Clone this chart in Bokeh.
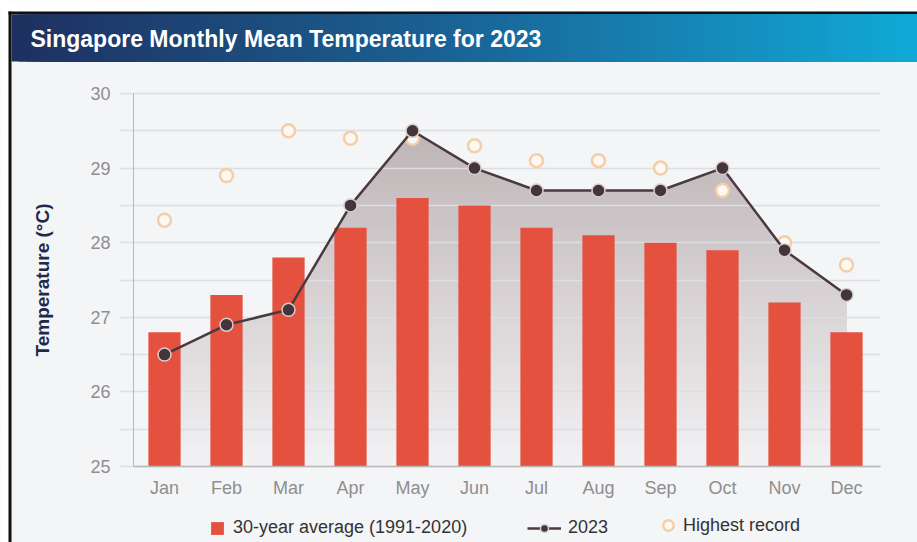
import numpy as np
from bokeh.plotting import figure
from bokeh.models import (BoxAnnotation, Label, Legend, LegendItem, Range1d,
                          FixedTicker)
from bokeh.embed import file_html
from bokeh.resources import INLINE

# ---- data -------------------------------------------------------------
months = ["Jan", "Feb", "Mar", "Apr", "May", "Jun",
          "Jul", "Aug", "Sep", "Oct", "Nov", "Dec"]
avg_30yr = [26.8, 27.3, 27.8, 28.2, 28.6, 28.5, 28.2, 28.1, 28.0, 27.9, 27.2, 26.8]
temp_2023 = [26.5, 26.9, 27.1, 28.5, 29.5, 29.0, 28.7, 28.7, 28.7, 29.0, 27.9, 27.3]
highest_record = [28.3, 28.9, 29.5, 29.4, 29.4, 29.3, 29.1, 29.1, 29.0, 28.7, 28.0, 27.7]
y_ticks = [25, 26, 27, 28, 29, 30]
y_minor_ticks = [25.5, 26.5, 27.5, 28.5, 29.5]

title_text = "Singapore Monthly Mean Temperature for 2023"
y_title = "Temperature (\u00b0C)"
legend_labels = ["30-year average (1991-2020)", "2023", "Highest record"]

# ---- page geometry (pixels) and styling --------------------------------
W, H = 917, 542
PLOT_L, PLOT_R, PLOT_T, PLOT_B = 133, 877, 93, 466   # plotting box
GRID_L, GRID_R = 120, 880                             # grid line extent
FONT = "Liberation Sans"
BG = "#f4f5f7"
GRID = "#dcdee2"
AXIS = "#b8b8b8"
BAR = "#e5513f"
LINE = "#4a3a40"
MARK = "#44343c"
REC_LINE = "#f3cea8"
REC_FILL = "#fdf8f1"

idx = list(range(len(months)))
y_lo, y_hi = y_ticks[0], y_ticks[-1]
x_lo, x_hi = -0.5, len(months) - 0.5

# The frame spans the whole canvas; ranges are stretched so the plotting
# box sits at PLOT_* while titles, borders and legends live in the margins.
kx = (PLOT_R - PLOT_L) / (x_hi - x_lo)
ky = (PLOT_B - PLOT_T) / (y_hi - y_lo)
x_range = Range1d(x_lo - PLOT_L / kx, x_hi + (W - PLOT_R) / kx)
y_range = Range1d(y_lo - (H - PLOT_B) / ky, y_hi + PLOT_T / ky)

def px_x(sx):
    return x_lo + (sx - PLOT_L) / kx

p = figure(width=W, height=H, output_backend="svg", toolbar_location=None,
           x_range=x_range, y_range=y_range, min_border=0)
p.title.visible = False
p.background_fill_color = BG
p.border_fill_color = BG
p.outline_line_color = None

# ---- axes and grid ----------------------------------------------------
yt = FixedTicker(ticks=y_ticks, minor_ticks=y_minor_ticks)
p.ygrid.ticker = yt
p.ygrid.grid_line_color = GRID
p.ygrid.grid_line_width = 1.5
p.ygrid.minor_grid_line_color = GRID
p.ygrid.minor_grid_line_width = 1.5
p.xgrid.grid_line_color = None

yax = p.yaxis[0]
yax.ticker = yt
yax.fixed_location = x_lo
yax.bounds = (y_lo, y_hi)
yax.axis_line_color = AXIS
yax.major_tick_in = 0
yax.major_tick_out = 13
yax.minor_tick_in = 0
yax.minor_tick_out = 13
yax.major_tick_line_color = None
yax.minor_tick_line_color = None
yax.major_label_standoff = 10
yax.major_label_text_font = FONT
yax.major_label_text_font_size = "18px"
yax.major_label_text_color = "#8e8e8e"
yax.axis_label = y_title
yax.axis_label_text_font = FONT
yax.axis_label_text_font_size = "19px"
yax.axis_label_text_font_style = "bold"
yax.axis_label_text_color = "#1d2a4c"
yax.axis_label_standoff = 34

xax = p.xaxis[0]
xax.ticker = FixedTicker(ticks=idx)
xax.major_label_overrides = {i: m for i, m in zip(idx, months)}
xax.fixed_location = y_lo
xax.bounds = (x_lo, px_x(GRID_R))
xax.axis_line_color = AXIS
xax.axis_line_width = 1.5
xax.major_tick_line_color = None
xax.minor_tick_line_color = None
xax.major_tick_in = 0
xax.major_tick_out = 0
xax.major_label_standoff = 11
xax.major_label_text_font = FONT
xax.major_label_text_font_size = "18px"
xax.major_label_text_color = "#8e8e8e"

# trim the horizontal grid lines to their visible extent
p.quad(left=x_range.start, right=px_x(GRID_L), bottom=y_lo - 0.2, top=y_hi + 0.2,
       fill_color=BG, line_color=None)
p.quad(left=px_x(GRID_R), right=x_range.end, bottom=y_lo - 0.2, top=y_hi + 0.2,
       fill_color=BG, line_color=None)

# ---- shaded area under the 2023 line (vertical gradient) -------------
xs = np.linspace(0, len(months) - 1, 1101)
curve = np.interp(xs, idx, temp_2023)
top_rgb = np.array([190, 180, 182])
bot_rgb = np.array([242, 241, 243])
span = max(temp_2023) - y_lo
for t in np.arange(y_lo, max(temp_2023), 0.1):
    f = (t + 0.05 - y_lo) / span
    c = np.round(bot_rgb + (top_rgb - bot_rgb) * f).astype(int)
    p.varea(x=xs, y1=np.full_like(xs, t), y2=np.maximum(curve, t),
            fill_color="#%02x%02x%02x" % tuple(c), level="image")

# ---- series -----------------------------------------------------------
bars = p.vbar(x=idx, top=avg_30yr, bottom=y_lo, width=0.52,
              fill_color=BAR, line_color=None)
rec = p.scatter(x=idx, y=highest_record, size=13, marker="circle",
                fill_color=REC_FILL, line_color=REC_LINE, line_width=2.5)
line = p.line(x=idx, y=temp_2023, line_color=LINE, line_width=2.5)
dots = p.scatter(x=idx, y=temp_2023, size=13, marker="circle",
                 fill_color=MARK, line_color="#d8cece", line_width=1.5)

# ---- legends (one per entry so each symbol keeps its own size) -------
LEG_Y = 4
def make_legend(label, renderers, x, gw, gh, standoff):
    leg = Legend(items=[LegendItem(label=label, renderers=renderers)],
                 location=(x, LEG_Y), orientation="horizontal",
                 glyph_width=gw, glyph_height=gh, label_standoff=standoff,
                 padding=0, margin=0, border_line_color=None,
                 background_fill_alpha=0,
                 label_text_font=FONT, label_text_font_size="18px",
                 label_text_color="#333333")
    p.add_layout(leg)

make_legend(legend_labels[0], [bars], 209, 16, 16, 8)
make_legend(legend_labels[1], [line, dots], 527, 34, 20, 7)
make_legend(legend_labels[2], [rec], 655, 26, 26, 2)

# ---- white margin, black border, gradient title bar -------------------
def box(l, r, t, b, color):
    p.add_layout(BoxAnnotation(left=l, right=r, top=t, bottom=b,
                               left_units="canvas", right_units="canvas",
                               top_units="canvas", bottom_units="canvas",
                               fill_color=color, fill_alpha=1.0,
                               line_color=None))

box(0, W, 0, 11, "white")
box(0, 8, 0, H, "white")
box(8, W, 11, 14, "#111111")
box(8, 11, 11, H, "#111111")

# gradient: each strip runs to the right end, later strips paint over it,
# so no gaps appear between neighbouring strips
stops = [(0.0, (30, 48, 96)), (0.5, (26, 100, 150)), (1.0, (16, 170, 216))]
n_strips = 120
x0, x1 = 11, W
for i in range(n_strips):
    a = x0 + (x1 - x0) * i / n_strips
    f = (i + 0.5) / n_strips
    for (f0, c0), (f1, c1) in zip(stops[:-1], stops[1:]):
        if f0 <= f <= f1:
            u = (f - f0) / (f1 - f0)
            c = tuple(int(round(c0[k] + (c1[k] - c0[k]) * u)) for k in range(3))
            break
    box(float(np.floor(a)), float(x1), 14, 61, "#%02x%02x%02x" % c)

p.add_layout(Label(x=30, y=38, x_units="canvas", y_units="canvas",
                   text=title_text, text_color="white", text_font=FONT,
                   text_font_size="23px", text_font_style="bold",
                   text_baseline="middle"))

open("out.html", "w").write(file_html(p, INLINE))
